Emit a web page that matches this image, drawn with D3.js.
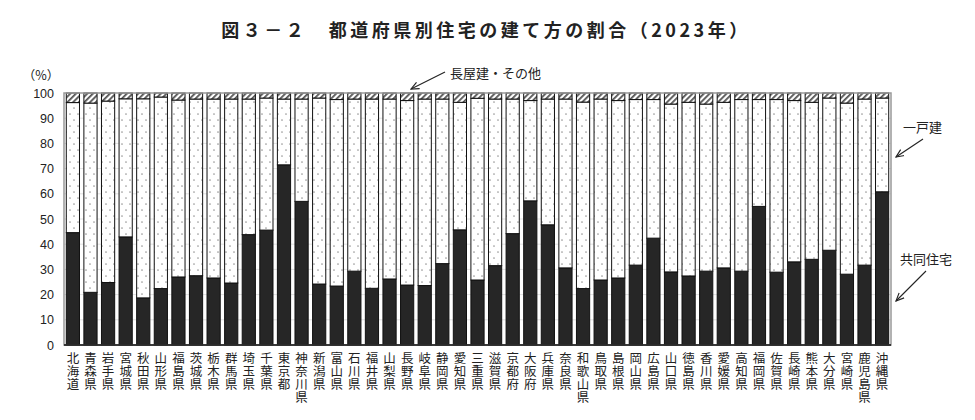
<!DOCTYPE html>
<html lang="ja">
<head>
<meta charset="utf-8">
<script src="https://cdn.jsdelivr.net/npm/d3@7"></script>
<style>
  body { margin: 0; background: #fff; }
  svg { display: block; font-family: "Noto Sans CJK JP", "Liberation Sans", sans-serif; }
</style>
</head>
<body>
<svg id="chart" width="975" height="420"></svg>
<script>
// 都道府県
const prefs = ["北海道","青森県","岩手県","宮城県","秋田県","山形県","福島県","茨城県","栃木県","群馬県",
  "埼玉県","千葉県","東京都","神奈川県","新潟県","富山県","石川県","福井県","山梨県","長野県",
  "岐阜県","静岡県","愛知県","三重県","滋賀県","京都府","大阪府","兵庫県","奈良県","和歌山県",
  "鳥取県","島根県","岡山県","広島県","山口県","徳島県","香川県","愛媛県","高知県","福岡県",
  "佐賀県","長崎県","熊本県","大分県","宮崎県","鹿児島県","沖縄県"]

// 共同住宅 (%)
const kyodo = [44.6,20.9,24.8,42.9,18.7,22.4,27.0,27.5,26.6,24.6,
  43.8,45.6,71.5,57.0,24.2,23.4,29.3,22.5,26.2,23.8,
  23.6,32.3,45.7,25.8,31.5,44.2,57.2,47.7,30.6,22.4,
  25.8,26.6,31.7,42.4,29.0,27.4,29.3,30.6,29.3,55.0,
  28.9,33.0,34.0,37.6,28.1,31.7,60.8]

// 一戸建 (%)
const ikkodate = [51.6,75.1,72.0,54.8,79.0,76.0,70.2,70.1,71.0,73.0,
  53.8,52.4,26.1,40.6,73.8,74.0,68.3,75.1,71.4,73.2,
  74.0,65.3,50.6,72.1,66.1,53.4,39.8,49.9,67.0,74.0,
  71.8,70.4,65.7,55.0,66.6,68.9,66.3,65.7,68.1,42.4,
  68.5,64.0,62.3,60.4,67.9,65.9,37.2]

// 長屋建・その他 (%)
const nagaya = [3.8,4.0,3.2,2.3,2.3,1.6,2.8,2.4,2.4,2.4,
  2.4,2.0,2.4,2.4,2.0,2.6,2.4,2.4,2.4,3.0,
  2.4,2.4,3.7,2.1,2.4,2.4,3.0,2.4,2.4,3.6,
  2.4,3.0,2.6,2.6,4.4,3.7,4.4,3.7,2.6,2.6,
  2.6,3.0,3.7,2.0,4.0,2.4,2.0]

const yTicks = [0,10,20,30,40,50,60,70,80,90,100]
const seriesKeys = ["kyodo","ikkodate","nagaya"]

const svg = d3.select("#chart")
const margin = { top: 93, right: 84, bottom: 75, left: 64 }
const width = +svg.attr("width") - margin.left - margin.right
const height = +svg.attr("height") - margin.top - margin.bottom

// patterns
const defs = svg.append("defs")
const dots = defs.append("pattern")
  .attr("id", "dots")
  .attr("patternUnits", "userSpaceOnUse")
  .attr("width", 8).attr("height", 12)
dots.append("rect").attr("width", 8).attr("height", 12).attr("fill", "#fff")
dots.append("circle").attr("cx", 2).attr("cy", 3).attr("r", 0.85).attr("fill", "#999")
dots.append("circle").attr("cx", 6).attr("cy", 9).attr("r", 0.85).attr("fill", "#999")

const hatch = defs.append("pattern")
  .attr("id", "hatch")
  .attr("patternUnits", "userSpaceOnUse")
  .attr("width", 4).attr("height", 4)
  .attr("patternTransform", "rotate(45)")
hatch.append("rect").attr("width", 4).attr("height", 4).attr("fill", "#fff")
hatch.append("rect").attr("width", 1.8).attr("height", 4).attr("fill", "#555")

const fills = { kyodo: "#262626", ikkodate: "url(#dots)", nagaya: "url(#hatch)" }

const rows = prefs.map((p, i) => ({ pref: p, kyodo: kyodo[i], ikkodate: ikkodate[i], nagaya: nagaya[i] }))
// normalise to 100
const stacked = d3.stack().keys(seriesKeys).offset(d3.stackOffsetExpand)(rows)

const x = d3.scaleBand().domain(prefs).range([0, width]).paddingInner(0.25).paddingOuter(0.13)
const y = d3.scaleLinear().domain([0, 1]).range([height, 0])

const g = svg.append("g").attr("transform", "translate(" + margin.left + "," + margin.top + ")")

// gridlines
g.append("g").selectAll("line")
  .data(yTicks.slice(1, -1))
  .join("line")
  .attr("x1", 0).attr("x2", width)
  .attr("y1", d => y(d / 100)).attr("y2", d => y(d / 100))
  .attr("stroke", "#e2e2e2").attr("stroke-width", 1)

// bars
g.append("g").selectAll("g")
  .data(stacked)
  .join("g")
  .attr("fill", d => fills[d.key])
  .selectAll("rect")
  .data(d => d)
  .join("rect")
  .attr("x", d => x(d.data.pref))
  .attr("y", d => y(d[1]))
  .attr("width", x.bandwidth())
  .attr("height", d => y(d[0]) - y(d[1]))
  .attr("stroke", "#111")
  .attr("stroke-width", 1)

// frame
g.append("rect")
  .attr("x", 0).attr("y", 0).attr("width", width).attr("height", height)
  .attr("fill", "none").attr("stroke", "#999").attr("stroke-width", 1.5)
g.append("line")
  .attr("x1", 0).attr("x2", width).attr("y1", height).attr("y2", height)
  .attr("stroke", "#111").attr("stroke-width", 1.5)

// y axis
const yAxis = g.append("g")
  .call(d3.axisLeft(y).tickValues(yTicks.map(d => d / 100)).tickFormat(d => Math.round(d * 100)).tickSize(0).tickPadding(10))
yAxis.select(".domain").remove()
yAxis.selectAll("text")
  .attr("font-family", "'Liberation Sans', Arial, sans-serif")
  .attr("font-size", 12.5).attr("fill", "#222")

svg.append("text")
  .attr("x", 41).attr("y", 80)
  .attr("text-anchor", "middle")
  .attr("font-size", 12.5).attr("fill", "#222")
  .text("（%）")

// x labels, written top to bottom
g.append("g").selectAll("text")
  .data(prefs)
  .join("text")
  .attr("x", d => x(d) + x.bandwidth() / 2)
  .attr("y", height + 7)
  .attr("writing-mode", "vertical-rl")
  .style("text-orientation", "upright")
  .attr("letter-spacing", 0.6)
  .attr("font-size", 12.5).attr("fill", "#222")
  .text(d => d)

// title
svg.append("text")
  .attr("x", 486).attr("y", 37)
  .attr("text-anchor", "middle")
  .attr("font-size", 18).attr("font-weight", 700)
  .attr("letter-spacing", 3.5).attr("fill", "#222")
  .text("図３－２　都道府県別住宅の建て方の割合（2023年）")

// annotations
defs.append("marker")
  .attr("id", "arrow")
  .attr("viewBox", "0 0 10 10").attr("refX", 9).attr("refY", 5)
  .attr("markerWidth", 8).attr("markerHeight", 8)
  .attr("orient", "auto-start-reverse")
  .append("path").attr("d", "M0,1 L9,5 L0,9").attr("fill", "none").attr("stroke", "#222").attr("stroke-width", 1.3)

const notes = [
  { text: "長屋建・その他", tx: 450, ty: 78, line: [445, 72, 411, 89] },
  { text: "一戸建", tx: 903, ty: 132, line: [923, 139, 896, 157] },
  { text: "共同住宅", tx: 900, ty: 264, line: [926, 271, 896, 301] }
]
notes.forEach(n => {
  svg.append("text")
    .attr("x", n.tx).attr("y", n.ty)
    .attr("font-size", 13).attr("fill", "#222")
    .text(n.text)
  svg.append("line")
    .attr("x1", n.line[0]).attr("y1", n.line[1])
    .attr("x2", n.line[2]).attr("y2", n.line[3])
    .attr("stroke", "#222").attr("stroke-width", 1.1)
    .attr("marker-end", "url(#arrow)")
})
</script>
</body>
</html>
